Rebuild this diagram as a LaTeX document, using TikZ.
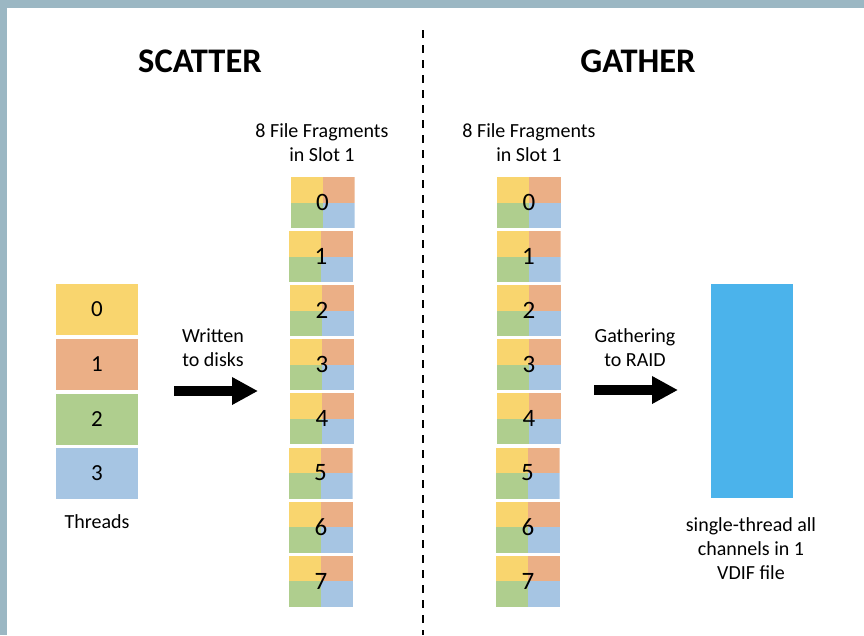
\documentclass[tikz,border=0pt]{standalone}
\usepackage{fontspec}
\setmainfont{Carlito}
\usetikzlibrary{arrows.meta}
\definecolor{framegray}{HTML}{9BB7C3}
\definecolor{cyel}{HTML}{F9D56E}
\definecolor{corg}{HTML}{EBAF86}
\definecolor{cgrn}{HTML}{AFCE8E}
\definecolor{cblu}{HTML}{A6C5E3}
\definecolor{craid}{HTML}{4BB3EB}
\begin{document}
\begin{tikzpicture}[x=1pt,y=-1pt,
  title/.style={font=\bfseries\fontsize{34.5}{38}\selectfont},
  label/.style={align=center,font=\fontsize{20}{24}\selectfont,inner sep=0},
  thread/.style={minimum width=82pt,minimum height=51pt,inner sep=0,
    font=\fontsize{23}{23}\selectfont},
  frag/.style={minimum width=64pt,minimum height=51pt,inner sep=0,
    font=\fontsize{25}{25}\selectfont,
    path picture={
      \fill[cyel] (path picture bounding box.north west) rectangle (path picture bounding box.center);
      \fill[corg] (path picture bounding box.north east) rectangle (path picture bounding box.center);
      \fill[cgrn] (path picture bounding box.south west) rectangle (path picture bounding box.center);
      \fill[cblu] (path picture bounding box.south east) rectangle (path picture bounding box.center);
    }},
  bigarrow/.style={line width=10pt,-{Triangle[length=26pt,width=26pt]}}]
\useasboundingbox (0,0) rectangle (864,635);
% frame edges
\fill[framegray] (0,0) rectangle (864,8);
\fill[framegray] (0,0) rectangle (7,635);

% divider
\coordinate (dtop) at (423,30);
\coordinate (dbot) at (423,635);
\draw[line width=2pt,dash pattern=on 8pt off 7pt] (dtop) -- (dbot);

% titles
\node[title] (tscatter) at (200,61) {SCATTER};
\node[title] (tgather) at (638,61) {GATHER};

% threads
\node[thread,fill=cyel] (t0) at (97,309.5) {0};
\node[thread,fill=corg] (t1) at (97,364) {1};
\node[thread,fill=cgrn] (t2) at (97,419) {2};
\node[thread,fill=cblu] (t3) at (97,473) {3};
\node[label] (threads) at (97,522) {Threads};

% scatter arrow
\node[label] (wlabel) at (213,348) {Written\\to disks};
\coordinate (a1s) at (174,391);
\coordinate (a1e) at (258,391);
\draw[bigarrow] (a1s) -- (a1e);

% fragments, slot 1 (scatter side)
\node[label] (fs) at (322,143) {8 File Fragments\\in Slot 1};
\foreach \i/\dx in {0/0.5,1/-1,2/0,3/0,4/0,5/-1.5,6/-1,7/-1}{
  \node[frag] (s\i) at (322+\dx,202.5+54.1*\i) {\i};
}

% fragments, slot 1 (gather side)
\node[label] (fg) at (529,143) {8 File Fragments\\in Slot 1};
\foreach \i/\dx in {0/0,1/-0.5,2/0,3/0,4/0,5/-1.5,6/-1,7/-1}{
  \node[frag] (g\i) at (529+\dx,202.5+54.1*\i) {\i};
}

% gather arrow
\node[label] (glabel) at (635,348) {Gathering\\to RAID};
\coordinate (a2s) at (594,390);
\coordinate (a2e) at (678,390);
\draw[bigarrow] (a2s) -- (a2e);

% RAID file
\node[fill=craid,minimum width=82pt,minimum height=214pt,inner sep=0] (raid) at (752,391) {};
\node[label] (vdif) at (751,549) {single-thread all\\channels in 1\\VDIF file};
\end{tikzpicture}
\end{document}
